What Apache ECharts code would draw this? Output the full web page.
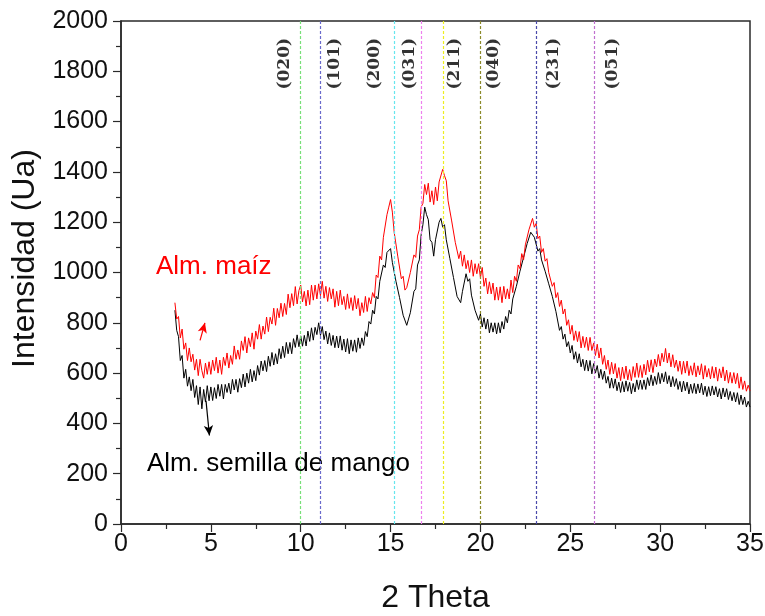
<!DOCTYPE html>
<html>
<head>
<meta charset="utf-8">
<title>Difractogramas de almidón</title>
<script src="https://cdn.jsdelivr.net/npm/echarts@6/dist/echarts.min.js"></script>
<style>
  html, body { margin: 0; padding: 0; background: #ffffff; }
  #chart { width: 765px; height: 616px; }
</style>
</head>
<body>
<div id="chart"></div>
<script>
// Sampling grid of the diffractograms (degrees 2θ)
const angleStart = 3.0;
const angleStep = 0.1;

// Almidón de maíz, intensity every 0.1° from 3.0° to 35.0° (one row per degree)
const maizValues = [
  880, 815, 825, 740, 775, 695, 720, 650, 700, 645,
  675, 612, 655, 590, 655, 610, 580, 640, 595, 645,
  595, 652, 610, 663, 600, 652, 595, 663, 630, 680,
  620, 670, 635, 708, 655, 692, 655, 728, 690, 745,
  680, 740, 705, 760, 695, 767, 735, 793, 735, 787,
  755, 823, 765, 822, 795, 858, 790, 857, 820, 878,
  825, 877, 833, 914, 860, 916, 868, 944, 875, 928,
  950, 883, 925, 867, 930, 872, 950, 890, 950, 895,
  955, 908, 965, 898, 945, 885, 940, 895, 935, 862,
  925, 868, 930, 872, 905, 853, 915, 857, 900, 849,
  908, 855, 897, 828, 880, 841, 905, 845, 900, 875,
  920, 900, 990, 980, 1065, 1050, 1140, 1145, 1230, 1260,
  1290, 1240, 1160, 1155, 1065, 1060, 975, 985, 930, 940,
  935, 1000, 1000, 1070, 1060, 1145, 1170, 1260, 1275, 1350,
  1310, 1355, 1280, 1325, 1270, 1340, 1285, 1360, 1360, 1410,
  1385, 1365, 1285, 1285, 1205, 1205, 1120, 1125, 1055, 1085,
  1025, 1070, 1015, 1048, 1000, 1050, 985, 1035, 995, 1035,
  980, 1020, 945, 978, 915, 963, 915, 958, 890, 942,
  890, 943, 880, 945, 895, 935, 895, 970, 920, 985,
  965, 1030, 1015, 1075, 1050, 1110, 1110, 1170, 1165, 1215,
  1180, 1195, 1135, 1145, 1080, 1095, 1045, 1055, 1000, 1000,
  945, 960, 900, 920, 865, 890, 835, 855, 790, 812,
  755, 790, 730, 768, 725, 765, 700, 746, 702, 743,
  690, 742, 690, 720, 670, 715, 660, 700, 635, 670,
  615, 652, 595, 643, 597, 638, 580, 622, 570, 624,
  578, 628, 573, 614, 570, 626, 583, 640, 583, 630,
  582, 635, 593, 651, 605, 653, 602, 656, 625, 674,
  628, 679, 645, 698, 640, 680, 625, 673, 622, 652,
  607, 648, 595, 647, 600, 648, 590, 629, 592, 641,
  585, 629, 593, 637, 576, 630, 584, 618, 577, 626,
  580, 624, 568, 617, 581, 625, 569, 612, 560, 603,
  560, 602, 558, 599, 540, 585, 535, 569, 528, 552,
  530
];

// Almidón de semilla de mango, same grid
const mangoValues = [
  850, 770, 745, 650, 670, 580, 615, 548, 585, 530,
  575, 503, 550, 475, 545, 458, 535, 485, 550, 490,
  545, 491, 542, 499, 555, 508, 555, 497, 555, 523,
  560, 517, 575, 533, 575, 524, 578, 542, 596, 545,
  600, 560, 615, 565, 610, 570, 630, 592, 648, 609,
  650, 606, 667, 627, 682, 632, 677, 637, 697, 657,
  707, 662, 722, 677, 722, 677, 737, 702, 752, 705,
  748, 707, 750, 708, 767, 726, 780, 731, 782, 753,
  800, 750, 785, 733, 767, 716, 760, 710, 750, 701,
  747, 700, 748, 691, 735, 684, 737, 677, 732, 687,
  732, 683, 740, 698, 740, 710, 765, 745, 805, 795,
  850, 835, 905, 895, 965, 960, 1030, 1020, 1080, 1085,
  1095, 1040, 1035, 965, 965, 900, 900, 830, 825, 790,
  785, 840, 845, 925, 935, 1030, 1050, 1150, 1190, 1260,
  1230, 1210, 1130, 1120, 1065, 1130, 1130, 1200, 1215, 1180,
  1190, 1130, 1125, 1055, 1055, 980, 975, 905, 900, 880,
  925, 930, 995, 965, 975, 910, 915, 850, 855, 810,
  835, 783, 820, 775, 815, 760, 800, 763, 800, 756,
  800, 760, 805, 775, 825, 800, 850, 835, 895, 890,
  945, 940, 1005, 1005, 1060, 1060, 1115, 1115, 1160, 1160,
  1140, 1135, 1085, 1095, 1050, 1055, 1005, 1010, 955, 955,
  905, 910, 845, 840, 770, 785, 735, 755, 705, 725,
  680, 710, 655, 685, 640, 677, 625, 655, 610, 652,
  608, 650, 597, 638, 600, 630, 580, 615, 575, 608,
  560, 587, 540, 580, 540, 577, 530, 564, 523, 566,
  525, 569, 528, 563, 518, 559, 525, 573, 535, 572,
  535, 573, 535, 582, 550, 593, 550, 587, 555, 602,
  558, 599, 565, 605, 558, 590, 545, 586, 547, 578,
  535, 567, 525, 568, 530, 564, 517, 556, 520, 559,
  518, 557, 521, 560, 514, 548, 507, 546, 510, 549,
  513, 546, 505, 538, 497, 541, 505, 538, 495, 527,
  490, 523, 485, 522, 475, 513, 475, 505, 465, 488,
  465
];

// Crystal planes (Miller indices) and their 2θ positions
const planeLabels = ['(020)', '(101)', '(200)', '(031)', '(211)', '(040)', '(231)', '(051)'];
const planeAngles = [9.96, 11.07, 15.2, 16.7, 17.95, 20.0, 23.1, 26.35];

// Arrow endpoints linking each label to its curve [2θ, intensity]
const maizArrow = [[4.40, 730], [4.67, 800]];
const mangoArrow = [[4.73, 490], [4.92, 352]];

// ---- styling ----
const planeColors = ['#78e078', '#6a6acc', '#66e6ee', '#ee80ee', '#eeee22', '#8c8a2a', '#4a4aaa', '#c070d0'];
const planeLabelShift = [-15, 15, -20, -12, 11, 13, 17, 18];   // px, left (-) or right (+) of the line
const planeLabelLevel = 1830;

function toPairs(values) {
  return values.map((v, i) => [+(angleStart + i * angleStep).toFixed(2), v]);
}

const sansFont = '"Liberation Sans", Arial, sans-serif';

const chart = echarts.init(document.getElementById('chart'), null, { renderer: 'canvas' });

chart.setOption({
  animation: false,
  backgroundColor: '#ffffff',
  grid: {
    left: 121, right: 15, top: 21, bottom: 92,
    outerBoundsMode: 'none',
    show: true, borderColor: '#2a2a2a', borderWidth: 1.5, backgroundColor: 'transparent'
  },
  xAxis: {
    type: 'value', min: 0, max: 35, interval: 5,
    name: '2 Theta', nameLocation: 'middle', nameGap: 58,
    nameTextStyle: { fontFamily: sansFont, fontSize: 32, color: '#111' },
    axisLine: { show: true, onZero: false, lineStyle: { color: '#2a2a2a', width: 1.5 } },
    axisTick: { show: true, inside: false, length: 8, lineStyle: { color: '#2a2a2a', width: 1.2 } },
    minorTick: { show: true, splitNumber: 2, length: 5, lineStyle: { color: '#2a2a2a', width: 1.2 } },
    splitLine: { show: false },
    axisLabel: { fontFamily: sansFont, fontSize: 25, color: '#111', margin: 8 }
  },
  yAxis: {
    type: 'value', min: 0, max: 2000, interval: 200,
    name: 'Intensidad (Ua)', nameLocation: 'middle', nameGap: 77,
    // extra left padding lifts the rotated title slightly above the axis centre
    nameTextStyle: { fontFamily: sansFont, fontSize: 32, color: '#111', padding: [0, 0, 0, 28] },
    axisLine: { show: true, lineStyle: { color: '#2a2a2a', width: 1.5 } },
    axisTick: { show: true, inside: false, length: 8, lineStyle: { color: '#2a2a2a', width: 1.2 } },
    minorTick: { show: true, splitNumber: 2, length: 5, lineStyle: { color: '#2a2a2a', width: 1.2 } },
    splitLine: { show: false },
    axisLabel: { fontFamily: sansFont, fontSize: 25, color: '#111', margin: 13, formatter: v => String(v) }
  },
  series: [
    {
      name: 'planos',
      type: 'scatter',
      symbolSize: 0,
      silent: true,
      data: planeAngles.map((a, i) => ({
        value: [a, planeLabelLevel],
        name: planeLabels[i],
        // with the 90° rotation the second offset component runs across the line
        label: { offset: [0, planeLabelShift[i]] }
      })),
      label: {
        show: true,
        position: 'inside',
        rotate: 90,
        formatter: p => p.name,
        fontFamily: '"DejaVu Serif", "Liberation Serif", serif',
        fontWeight: 'bold',
        fontSize: 17,
        color: '#000'
      },
      markLine: {
        silent: true,
        symbol: 'none',
        label: { show: false },
        data: planeAngles.map((a, i) => ({
          xAxis: a,
          lineStyle: { color: planeColors[i], type: [3, 2], width: 1.2 }
        }))
      },
      z: 1
    },
    {
      name: 'Alm. semilla de mango',
      type: 'line',
      showSymbol: false,
      data: toPairs(mangoValues),
      lineStyle: { color: '#000000', width: 1 },
      itemStyle: { color: '#000000' },
      markLine: {
        silent: true,
        symbol: ['none', 'arrow'],
        symbolSize: [7, 10],
        label: { show: false },
        lineStyle: { color: '#000000', type: 'solid', width: 1.2 },
        data: [[{ coord: mangoArrow[0] }, { coord: mangoArrow[1] }]]
      },
      z: 3
    },
    {
      name: 'Alm. maíz',
      type: 'line',
      showSymbol: false,
      data: toPairs(maizValues),
      lineStyle: { color: '#ff0000', width: 1 },
      itemStyle: { color: '#ff0000' },
      markLine: {
        silent: true,
        symbol: ['none', 'arrow'],
        symbolSize: [7, 10],
        label: { show: false },
        lineStyle: { color: '#ff0000', type: 'solid', width: 1.2 },
        data: [[{ coord: maizArrow[0] }, { coord: maizArrow[1] }]]
      },
      z: 4
    }
  ],
  graphic: [
    {
      type: 'text', left: 156, top: 254, silent: true,
      style: { text: 'Alm. maíz', fill: '#ff0000', font: '26px ' + sansFont }
    },
    {
      type: 'text', left: 147, top: 451, silent: true,
      style: { text: 'Alm. semilla de mango', fill: '#000000', font: '26px ' + sansFont }
    }
  ]
});
</script>
</body>
</html>
